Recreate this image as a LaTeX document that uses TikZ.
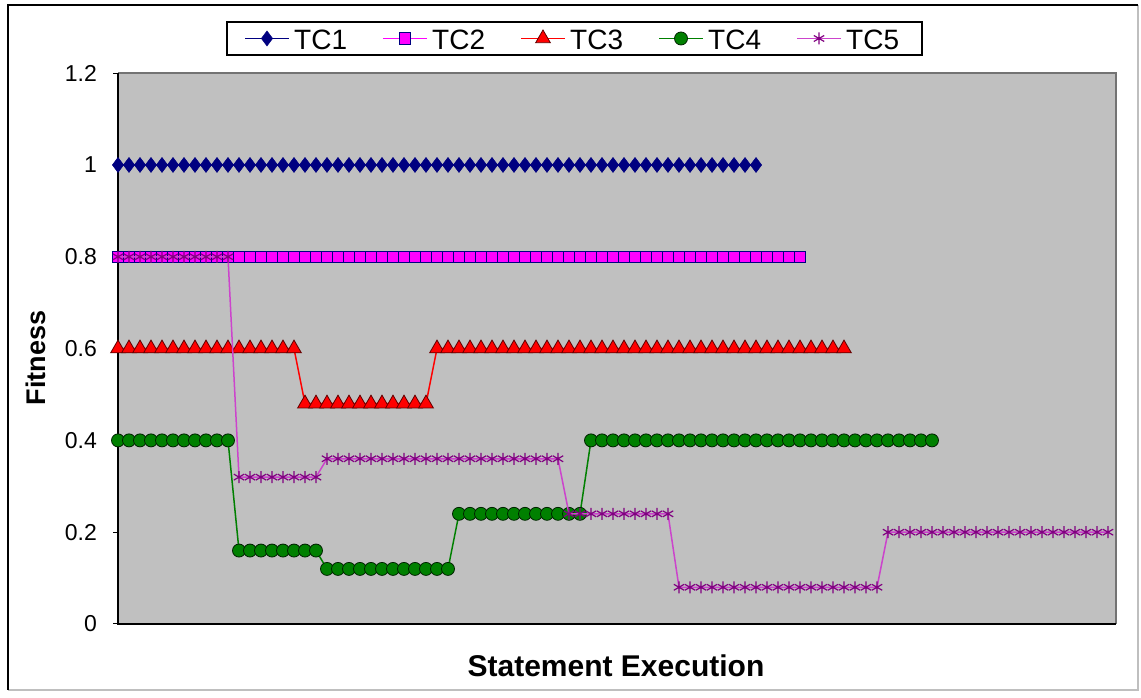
\documentclass[tikz,border=0pt]{standalone}
\usepackage{fontspec}
\setmainfont{Liberation Sans}
\usetikzlibrary{plotmarks}

\definecolor{plotgray}{HTML}{C0C0C0}
\definecolor{tcnavy}{HTML}{000080}
\definecolor{tcmagenta}{HTML}{FF00FF}
\definecolor{tcred}{HTML}{FF0000}
\definecolor{tcdarkred}{HTML}{600000}
\definecolor{tcgreen}{HTML}{008000}
\definecolor{tcdarkgreen}{HTML}{002200}
\definecolor{tcpurple}{HTML}{800080}
\definecolor{tcpink}{HTML}{CC44CC}

\newcommand\tickfont{\fontsize{23}{23}\selectfont}
\newcommand\legfont{\fontsize{28}{28}\selectfont}
\newcommand\titlefont{\fontsize{30}{30}\selectfont\bfseries}

\begin{document}
\begin{tikzpicture}
[x=1pt,y=1pt,%
  every node/.style={inner sep=0pt},%
  tcone/.style={tcnavy,line width=1.5pt,mark=diamond*,mark size=7.5pt,
    mark options={solid,fill=tcnavy,draw=tcnavy,line width=0.5pt}},%
  tctwo/.style={tcmagenta,line width=1.5pt,mark=square*,mark size=5.8pt,
    mark options={solid,fill=tcmagenta,draw=tcnavy,line width=0.8pt}},%
  tcthree/.style={tcred,line width=1.5pt,mark=triangle*,mark size=8.5pt,
    mark options={solid,fill=tcred,draw=tcdarkred,line width=0.8pt}},%
  tcfour/.style={tcgreen,line width=1.5pt,mark=*,mark size=6.5pt,
    mark options={solid,fill=tcgreen,draw=tcdarkgreen,line width=0.8pt}},%
  tcfive/.style={tcpink,line width=1.5pt,mark=asterisk,mark size=6pt,
    mark options={solid,draw=tcpurple,line width=1.2pt}}]
\useasboundingbox (0,0) rectangle (1141,698);

% frame
\draw[black!25,line width=1.5pt] (8,8) -- (1138,8) -- (1138,693);
\draw[black,line width=2pt] (8,8) -- (8,693) -- (1138,693);

% plot area
\fill[plotgray] (118,74) rectangle (1116,625);
\draw[black!55,line width=1.2pt] (118,625) -- (1116,625) -- (1116,74);
\draw[black,line width=1.3pt] (118,625) -- (118,74) -- (1116,74);

\begin{scope}[shift={(118,74)},x=11pt,y=459pt]
% value axis
\foreach \v/\t [count=\i] in {0/0,0.2/0.2,0.4/0.4,0.6/0.6,0.8/0.8,1/1,1.2/1.2}
{
  \draw[black,line width=1pt] (0,\v) -- ++(-5pt,0);
  \node[anchor=east,font=\tickfont] (tick\i) at ([xshift=-21pt]0,\v) {\t};
}
% series
\draw[tcone] plot[domain=0:58,samples=59] (\x,1);
\draw[tctwo] plot[domain=0:62,samples=63] (\x,0.8);
\draw[tcthree] plot[domain=0:66,samples=67]
  (\x,{ifthenelse(\x<16.5,0.6,ifthenelse(\x<28.5,0.48,0.6))});
\draw[tcfour] plot[domain=0:74,samples=75]
  (\x,{ifthenelse(\x<10.5,0.4,ifthenelse(\x<18.5,0.16,
       ifthenelse(\x<30.5,0.12,ifthenelse(\x<42.5,0.24,0.4))))});
\draw[tcfive] plot[domain=0:90,samples=91]
  (\x,{ifthenelse(\x<10.5,0.8,ifthenelse(\x<18.5,0.32,
       ifthenelse(\x<40.5,0.36,ifthenelse(\x<50.5,0.24,
       ifthenelse(\x<69.5,0.08,0.2)))))});
\end{scope}

% legend
\draw[black,fill=white,line width=1.5pt] (227,643) rectangle (922,676);
\draw[tcone,mark indices={2}] plot coordinates {(245,659.5) (267,659.5) (289,659.5)};
\node[anchor=west,font=\legfont] (leg1) at (294,658) {TC1};
\draw[tctwo,mark indices={2}] plot coordinates {(383,659.5) (405,659.5) (427,659.5)};
\node[anchor=west,font=\legfont] (leg2) at (432,658) {TC2};
\draw[tcthree,mark indices={2}] plot coordinates {(521,659.5) (543,659.5) (565,659.5)};
\node[anchor=west,font=\legfont] (leg3) at (570,658) {TC3};
\draw[tcfour,mark indices={2}] plot coordinates {(659,659.5) (681,659.5) (703,659.5)};
\node[anchor=west,font=\legfont] (leg4) at (708,658) {TC4};
\draw[tcfive,mark indices={2}] plot coordinates {(797,659.5) (819,659.5) (841,659.5)};
\node[anchor=west,font=\legfont] (leg5) at (846,658) {TC5};

% axis titles
\node[rotate=90,font=\fontsize{27}{27}\selectfont\bfseries] (ytitle) at (36,340) {Fitness};
\node[font=\titlefont] (xtitle) at (616,32) {Statement Execution};
\end{tikzpicture}
\end{document}
